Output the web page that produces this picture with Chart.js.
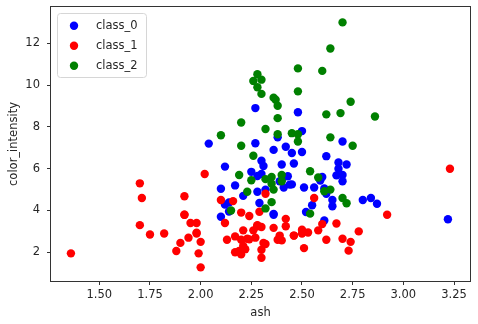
<!DOCTYPE html>
<html>
<head>
<meta charset="utf-8">
<script src="https://cdn.jsdelivr.net/npm/chart.js@4.4.0/dist/chart.umd.min.js"></script>
<style>
  html, body { margin: 0; padding: 0; background: #fff; }
  #wrap { width: 478px; height: 324px; position: relative; }
</style>
</head>
<body>
<div id="wrap"><canvas id="wineChart"></canvas></div>
<script>
// wine dataset: ash vs color_intensity, one array pair per class
const classNames = ['class_0', 'class_1', 'class_2'];
const classColours = ['#0000ff', '#ff0000', '#008000'];

const ash0 = [2.43,2.14,2.67,2.5,2.87,2.45,2.45,2.61,2.17,2.27,2.3,2.32,2.41,2.39,2.38,2.7,2.72,2.62,2.48,2.56,
  2.28,2.65,2.36,2.52,2.61,3.22,2.62,2.14,2.8,2.21,2.7,2.36,2.36,2.7,2.65,2.41,2.84,2.55,2.1,2.51,
  2.31,2.12,2.59,2.29,2.1,2.44,2.28,2.12,2.4,2.27,2.04,2.6,2.42,2.68,2.25,2.46,2.3,2.68,2.5];
const colour0 = [5.64,4.38,5.68,7.8,4.32,6.75,5.25,5.05,5.2,7.22,5.75,5,5.6,5.4,7.5,7.3,6.2,6.6,8.7,5.1,
  5.65,4.5,3.8,3.93,3.52,3.58,4.8,3.95,4.5,4.7,5.7,6.9,3.84,5.4,4.2,5.1,4.6,4.25,3.7,5.1,
  6.13,4.28,5.43,4.36,5.04,5.24,4.9,6.1,6.2,8.9,7.2,5.6,7.05,6.3,5.85,6.25,6.38,6,6.8];

const ash1 = [1.36,2.28,2.02,1.92,2.16,2.53,2.56,1.7,1.92,2.36,1.75,2.21,2.67,2.24,2.6,2.3,1.92,1.71,2.23,1.95,
  2.4,2,2.2,2.51,2.32,2.58,2.24,2.31,2.62,2.46,2.3,2.32,2.42,2.26,2.22,2.28,2.2,2.74,1.98,2.1,
  2.21,1.7,1.9,2.46,1.88,1.98,2.27,2.12,2.28,1.94,2.7,1.82,2.17,2.92,2.5,2.5,2.2,1.99,2.19,1.98,
  2,2.42,3.23,2.73,2.13,2.39,2.17,2.29,2.78,2.3,2.38];
const colour1 = [1.95,3.27,5.75,3.8,4.45,2.95,4.6,5.3,4.68,3.17,2.85,3.05,3.38,3.74,3.35,3.21,3.8,4.6,2.65,3.4,
  2.57,2.5,3.9,2.2,4.8,3.05,2.62,2.45,2.6,2.8,1.74,2.4,3.6,3.05,2.15,3.25,2.6,2.5,2.9,4.5,
  2.3,3.3,2.45,2.8,2.06,2.94,2.7,3.4,3.3,2.7,2.65,2.9,2,3.8,3.08,2.9,1.9,1.95,2.06,3.4,
  1.28,3.25,6,2.08,2.6,2.8,2.76,3.94,3,2.12,2.6];

const ash2 = [2.32,2.4,2.4,2.36,2.25,2.2,2.54,2.64,2.19,2.61,2.7,2.35,2.72,2.35,2.2,2.15,2.23,2.48,2.38,2.36,
  2.62,2.48,2.75,2.28,2.1,2.32,2.38,2.64,2.7,2.64,2.38,2.54,2.58,2.35,2.3,2.26,2.6,2.3,2.69,2.86,
  2.32,2.28,2.48,2.45,2.48,2.26,2.37,2.74];
const colour2 = [4.1,5.4,5.7,5,5.45,7.1,3.85,5,5.7,4.92,4.6,5.6,4.35,4.4,8.21,4,4.9,7.65,8.42,9.4,
  8.6,10.8,7.1,10.52,7.6,7.9,9.01,7.5,13,11.75,7.65,5.88,5.58,5.28,9.58,6.62,10.68,10.26,8.66,8.5,
  5.5,9.9,9.7,7.7,7.3,10.2,9.3,9.2];

const xTicks = [1.5, 1.75, 2.0, 2.25, 2.5, 2.75, 3.0, 3.25];
const yTicks = [2, 4, 6, 8, 10, 12];

const FONT = 'DejaVu Sans';
const TEXT = '#262626';

function toPoints(xs, ys) {
  return xs.map((x, i) => ({ x: x, y: ys[i] }));
}

const series = [[ash0, colour0], [ash1, colour1], [ash2, colour2]];
const datasets = series.map((s, i) => ({
  label: classNames[i],
  data: toPoints(s[0], s[1]),
  backgroundColor: classColours[i],
  borderWidth: 0,
  pointRadius: 4.2,
  order: 2 - i   // later classes sit on top
}));

// box round the plot area
const frame = {
  id: 'frame',
  afterDatasetsDraw(chart) {
    const a = chart.chartArea, ctx = chart.ctx;
    ctx.save();
    ctx.strokeStyle = '#333';
    ctx.lineWidth = 1;
    ctx.strokeRect(Math.round(a.left) - 0.5, Math.round(a.top) - 0.5,
      Math.round(a.right - a.left) + 1, Math.round(a.bottom - a.top) + 1);
    ctx.restore();
  }
};

// legend box in the upper left corner
const cornerLegend = {
  id: 'cornerLegend',
  afterDraw(chart) {
    const ctx = chart.ctx;
    const bx = 57.5, by = 13.5, bw = 89, bh = 64;
    ctx.save();
    ctx.beginPath();
    ctx.roundRect(bx, by, bw, bh, 3);
    ctx.fillStyle = 'rgba(255,255,255,0.8)';
    ctx.fill();
    ctx.strokeStyle = '#d6d6d6';
    ctx.lineWidth = 1;
    ctx.stroke();
    ctx.font = '11.5px "' + FONT + '"';
    ctx.textBaseline = 'middle';
    ctx.textAlign = 'left';
    chart.data.datasets.forEach((ds, i) => {
      const y = 25.7 + i * 20;
      ctx.beginPath();
      ctx.arc(74, y, 4.2, 0, Math.PI * 2);
      ctx.fillStyle = ds.backgroundColor;
      ctx.fill();
      ctx.fillStyle = TEXT;
      ctx.fillText(ds.label, 96, y);
    });
    ctx.restore();
  }
};

new Chart(document.getElementById('wineChart'), {
  type: 'scatter',
  data: { datasets: datasets },
  options: {
    responsive: true,
    maintainAspectRatio: false,
    animation: false,
    events: [],
    layout: { padding: { top: 7, right: 8, left: 0, bottom: 0 } },
    plugins: { legend: { display: false }, tooltip: { enabled: false } },
    scales: {
      x: {
        type: 'linear',
        min: 1.2617,
        max: 3.3289,
        afterBuildTicks: (scale) => { scale.ticks = xTicks.map(v => ({ value: v })); },
        afterFit: (scale) => {
          scale.height = 43;
          scale.paddingLeft = 0;
          scale.paddingRight = 0;
        },
        border: { display: false },
        grid: { drawOnChartArea: false, drawTicks: true, tickLength: 4, color: '#333' },
        ticks: {
          padding: 3,
          color: TEXT,
          font: { family: FONT, size: 11.5 },
          maxRotation: 0,
          callback: (v) => Number(v).toFixed(2)
        },
        title: {
          display: true,
          text: 'ash',
          color: TEXT,
          font: { family: FONT, size: 11.5 },
          padding: { top: 0, bottom: 4.5 }
        }
      },
      y: {
        type: 'linear',
        min: 0.627,
        max: 13.737,
        afterBuildTicks: (scale) => { scale.ticks = yTicks.map(v => ({ value: v })); },
        afterFit: (scale) => {
          scale.width = 51;
          scale.paddingTop = 0;
          scale.paddingBottom = 0;
        },
        border: { display: false },
        grid: { drawOnChartArea: false, drawTicks: true, tickLength: 4, color: '#333' },
        ticks: {
          padding: 7,
          color: TEXT,
          font: { family: FONT, size: 11.5 },
          callback: (v) => String(v)
        },
        title: {
          display: true,
          text: 'color_intensity',
          color: TEXT,
          font: { family: FONT, size: 11.5 },
          padding: { top: 7, bottom: 0 }
        }
      }
    }
  },
  plugins: [frame, cornerLegend]
});
</script>
</body>
</html>
